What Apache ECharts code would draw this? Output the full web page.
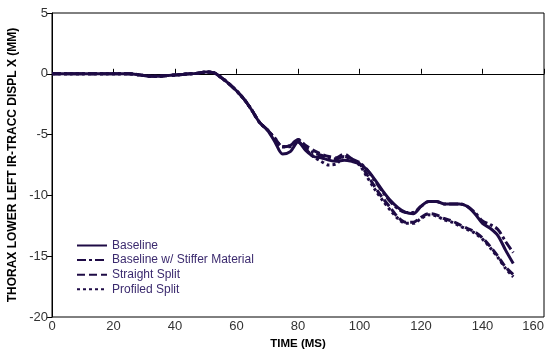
<!DOCTYPE html>
<html><head><meta charset="utf-8">
<script src="https://cdn.jsdelivr.net/npm/echarts@6/dist/echarts.min.js"></script>
<style>html,body{margin:0;padding:0;background:#fff}#c{width:550px;height:354px}</style>
</head><body><div id="c"></div>
<script>
const times = [0,2.5,5,7.5,10,12.5,15,17.5,20,22.5,25,27.5,30,32.5,35,37.5,40,42.5,45,47.5,50,52.5,55,57.5,60,62.5,65,67.5,70,72.5,75,77.5,80,82.5,85,87.5,90,92.5,95,97.5,100,102.5,105,107.5,110,112.5,115,117.5,120,122.5,125,127.5,130,132.5,135,137.5,140,142.5,145,147.5,150];
const baseline = [0,0,0,0,0,0,0,0,0,0,0,-0.05,-0.15,-0.2,-0.2,-0.15,-0.1,-0.05,0,0.05,0.15,0.1,-0.3,-0.8,-1.4,-2.1,-3.0,-4.0,-4.6,-5.6,-6.6,-6.4,-5.6,-6.3,-6.8,-6.9,-7.1,-7.2,-7.1,-7.2,-7.4,-7.9,-8.7,-9.6,-10.4,-11.0,-11.4,-11.5,-10.9,-10.5,-10.5,-10.7,-10.7,-10.7,-10.9,-11.5,-12.3,-12.7,-13.3,-14.5,-15.6];
const stiffer = [0,0,0,0,0,0,0,0,0,0,0,-0.05,-0.15,-0.2,-0.2,-0.15,-0.1,-0.05,0,0.05,0.15,0.1,-0.3,-0.8,-1.4,-2.1,-3.0,-4.0,-4.6,-5.4,-6.0,-5.9,-5.4,-6.1,-6.5,-6.7,-6.9,-7.0,-6.8,-7.0,-7.3,-7.9,-8.8,-9.7,-10.5,-11.1,-11.4,-11.4,-10.9,-10.5,-10.5,-10.7,-10.7,-10.7,-10.9,-11.4,-12.1,-12.4,-12.8,-13.8,-14.7];
const straight = [0,0,0,0,0,0,0,0,0,0,0,-0.05,-0.15,-0.2,-0.2,-0.15,-0.1,-0.05,0,0.05,0.15,0.1,-0.3,-0.8,-1.4,-2.1,-3.0,-4.0,-4.6,-5.3,-6.0,-5.9,-5.4,-5.9,-6.3,-6.6,-6.8,-6.9,-6.6,-7.0,-7.4,-8.3,-9.3,-10.2,-11.0,-11.8,-12.2,-12.2,-11.8,-11.5,-11.6,-11.9,-12.1,-12.4,-12.7,-13.0,-13.5,-14.2,-15.0,-15.9,-16.5];
const profiled = [0,0,0,0,0,0,0,0,0,0,0,-0.05,-0.15,-0.2,-0.2,-0.15,-0.1,-0.05,0,0.05,0.15,0.1,-0.3,-0.8,-1.4,-2.1,-3.0,-4.0,-4.6,-5.3,-6.0,-6.0,-5.6,-6.2,-6.8,-7.2,-7.5,-7.4,-6.8,-7.1,-7.5,-8.5,-9.5,-10.4,-11.2,-11.9,-12.3,-12.3,-11.9,-11.6,-11.7,-12.0,-12.2,-12.5,-12.8,-13.1,-13.6,-14.3,-15.1,-16.0,-16.7];
const xTicks = [0,20,40,60,80,100,120,140,160];
const yTicks = [-20,-15,-10,-5,0,5];
const names = ['Baseline','Baseline w/ Stiffer Material','Straight Split','Profiled Split'];
const seriesData = [baseline, stiffer, straight, profiled];
const dashes = ['solid',[9,3,3,3],[8,4],[3,3]];
const col = '#1e0b45';
const FF = 'Liberation Sans, Arial, sans-serif';
const chart = echarts.init(document.getElementById('c'));
chart.setOption({
  animation:false,
  backgroundColor:'#fff',
  grid:{left:52,width:492,top:13,height:304,show:true,borderColor:'#000',borderWidth:1,
    containLabel:false,outerBoundsMode:'none'},
  legend:{
    orient:'vertical',left:76,top:239.5,padding:0,itemWidth:30,itemHeight:10,itemGap:2.6,
    itemStyle:{opacity:0},
    textStyle:{color:'#3b2a6e',fontSize:12,fontFamily:FF},
    data:names
  },
  xAxis:{type:'value',min:0,max:160,interval:20,
    name:'TIME (MS)',nameLocation:'middle',nameGap:11,
    nameTextStyle:{fontWeight:'bold',fontSize:11.5,color:'#000',fontFamily:FF},
    axisLine:{lineStyle:{color:'#000',width:1}},
    axisTick:{inside:true,length:5,lineStyle:{color:'#000'}},
    axisLabel:{color:'#333',fontSize:13,margin:3,fontFamily:FF,alignMaxLabel:'right',
      formatter:v=>xTicks.includes(v)?String(v):''},
    splitLine:{show:false}},
  yAxis:{type:'value',min:-20,max:5,interval:5,
    name:'THORAX LOWER LEFT IR-TRACC DISPL X (MM)',nameLocation:'middle',nameGap:28,nameRotate:90,
    nameTextStyle:{fontWeight:'bold',fontSize:12,color:'#000',fontFamily:FF},
    axisLine:{lineStyle:{color:'#000',width:1}},
    axisTick:{inside:false,length:5,lineStyle:{color:'#000'}},
    axisLabel:{color:'#333',fontSize:13,margin:4,fontFamily:FF,
      formatter:v=>yTicks.includes(v)?String(v):''},
    splitLine:{show:false}},
  series: names.map((n,i)=>({
    name:n,type:'line',symbol:'none',smooth:0.3,
    data:times.map((t,j)=>[t,seriesData[i][j]]),
    lineStyle:{color:col,width:3,type:dashes[i]},
    itemStyle:{color:col}
  }))
});
</script></body></html>
